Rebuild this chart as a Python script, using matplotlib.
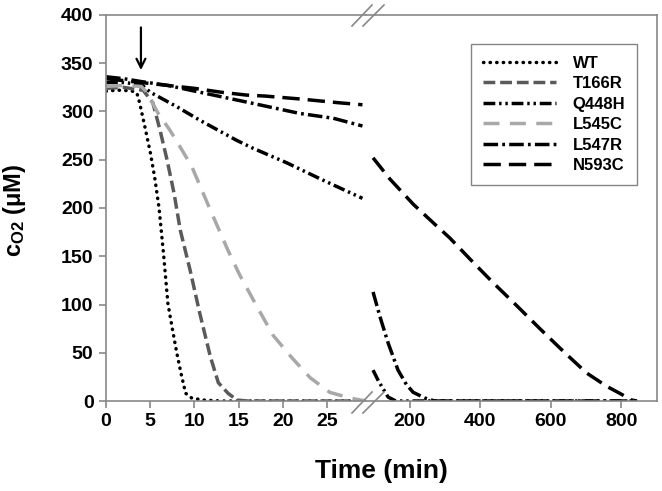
import matplotlib
matplotlib.use('Agg')
import matplotlib.pyplot as plt
from matplotlib.lines import Line2D

plt.rcParams['font.family'] = ['Liberation Sans', 'DejaVu Sans']
plt.rcParams['font.weight'] = 'bold'
plt.rcParams['mathtext.fontset'] = 'custom'
plt.rcParams['mathtext.rm'] = 'Liberation Sans:bold'
plt.rcParams['mathtext.it'] = 'Liberation Sans:bold'
plt.rcParams['mathtext.bf'] = 'Liberation Sans:bold'

# ---- data ----
# first part of the time axis (0 - ~29 min)
wt_t = [0, 1, 2, 3, 3.5, 3.8, 4.4, 5.0, 5.5, 6.0, 6.5, 7.0, 7.5, 8.0, 8.5, 9.0, 9.7, 11, 13, 29.4]
wt_c = [321, 322, 322, 321, 319, 309, 284, 258, 232, 200, 153, 101, 75, 50, 28, 8, 3, 1, 0, 0]

t166r_t = [0, 2, 4.2, 5.3, 6.1, 6.9, 7.7, 8.4, 9.5, 10.6, 11.8, 12.7, 13.8, 14.8, 16, 29.4]
t166r_c = [324, 325, 322, 309, 281, 250, 215, 177, 136, 91, 46, 19, 8, 1, 0, 0]

q448h_t = [0, 2, 4, 5, 8, 10.6, 14.8, 16.6, 20.4, 24.5, 29]
q448h_c = [330, 330, 328, 320, 305, 291, 270, 262, 247, 229, 210]

l545c_t = [0, 2, 4.0, 4.6, 5.9, 7.2, 8.4, 9.7, 11.7, 13.8, 15.1, 17.0, 18.9, 21.0, 23.1, 25.3, 27.6, 29.4]
l545c_c = [326, 327, 326, 320, 298, 281, 263, 243, 200, 156, 131, 99, 68, 45, 24, 9, 3, 0]

l547r_t = [0, 2, 4, 7, 10.6, 16.3, 21.9, 25.7, 29]
l547r_c = [336, 334, 331, 327, 320, 309, 298, 293, 285]

n593c_t = [0, 2, 4, 7, 10, 13, 15.9, 18, 21.9, 26.4, 29]
n593c_c = [334, 332, 330, 327, 324, 320, 317, 316, 313, 309, 307]

# second part of the time axis (~95 - 850 min)
q448h_t2 = [95, 110, 123, 138, 160, 845]
q448h_c2 = [32, 21, 13, 4, 0, 0]

l547r_t2 = [95, 115, 138, 166, 190, 209, 243, 270, 845]
l547r_c2 = [113, 87, 60, 32, 17, 9, 3, 0, 0]

n593c_t2 = [95, 143, 209, 271, 313, 376, 435, 500, 569, 640, 702, 760, 796, 830, 845]
n593c_c2 = [252, 230, 204, 183, 169, 145, 123, 100, 75, 50, 29, 15, 8, 1, 0]

left_ticks = [0, 5, 10, 15, 20, 25]
right_ticks = [200, 400, 600, 800]
y_ticks = [0, 50, 100, 150, 200, 250, 300, 350, 400]

styles = {
    'WT':    dict(color='black',   ls=(0, (0.1, 1.8)), dash_capstyle='round'),
    'T166R': dict(color='#5a5a5a', ls=(0, (3.4, 1.4))),
    'Q448H': dict(color='black',   ls=(0, (3.4, 1.1, 0.7, 1.1, 0.7, 1.1))),
    'L545C': dict(color='#a8a8a8', ls=(0, (4.6, 3.0))),
    'L547R': dict(color='black',   ls=(0, (4.2, 1.2, 0.8, 1.2))),
    'N593C': dict(color='black',   ls=(0, (5.0, 2.3))),
}
LW = 2.5
SPINE = '#888888'

fig = plt.figure(figsize=(6.62, 4.91), dpi=100)
W, H = 662.0, 491.0
y0 = 1 - 401 / H
h = (401 - 15) / H
ax1 = fig.add_axes([106 / W, y0, (366 - 106) / W, h])
ax2 = fig.add_axes([366 / W, y0, (657 - 366) / W, h])

ax1.plot(wt_t, wt_c, lw=LW, **styles['WT'])
ax1.plot(t166r_t, t166r_c, lw=LW, **styles['T166R'])
ax1.plot(q448h_t, q448h_c, lw=LW, **styles['Q448H'])
ax1.plot(l545c_t, l545c_c, lw=LW, **styles['L545C'])
ax1.plot(l547r_t, l547r_c, lw=LW, **styles['L547R'])
ax1.plot(n593c_t, n593c_c, lw=LW, **styles['N593C'])

ax2.plot(q448h_t2, q448h_c2, lw=LW, **styles['Q448H'])
ax2.plot(l547r_t2, l547r_c2, lw=LW, **styles['L547R'])
ax2.plot(n593c_t2, n593c_c2, lw=LW, **styles['N593C'])

ax1.set_xlim(0, 29.4)
ax2.set_xlim(75, 902)
for ax in (ax1, ax2):
    ax.set_ylim(0, 400)
    for s in ax.spines.values():
        s.set_color(SPINE)
        s.set_linewidth(1.2)
    ax.tick_params(direction='out', length=5, width=1.2, color=SPINE,
                   labelsize=14, labelcolor='black', pad=4)
ax1.spines['right'].set_visible(False)
ax2.spines['left'].set_visible(False)
ax2.tick_params(axis='y', left=False, labelleft=False)
ax1.set_xticks(left_ticks)
ax2.set_xticks(right_ticks)
ax1.set_yticks(y_ticks)
for ax in (ax1, ax2):
    for lab in ax.get_xticklabels() + ax.get_yticklabels():
        lab.set_fontweight('bold')

# arrow marking addition
ax1.annotate('', xy=(3.95, 340), xytext=(3.95, 390),
             arrowprops=dict(arrowstyle='->', lw=1.6, color='black',
                             mutation_scale=16))

# axis break marks
for (xa, xb) in [(352, 372), (363, 384)]:
    for (ya, yb) in [(26, 5), (413, 392)]:
        fig.add_artist(Line2D([xa / W, xb / W], [1 - ya / H, 1 - yb / H],
                              color=SPINE, lw=1.2))

# legend
handles = [Line2D([], [], lw=LW, **styles[k]) for k in styles]
leg = fig.legend(handles, list(styles.keys()), loc='upper right',
                 bbox_to_anchor=(637 / W, 1 - 44 / H), bbox_transform=fig.transFigure,
                 borderaxespad=0, handlelength=4.4, handletextpad=1.0,
                 labelspacing=0.33, borderpad=0.7, fancybox=False, frameon=True,
                 prop={'weight': 'bold', 'size': 12})
leg.get_frame().set_edgecolor('#666666')
leg.get_frame().set_linewidth(1.0)

fig.text(381 / W, 1 - 471 / H, 'Time (min)', ha='center', va='center',
         fontsize=19, fontweight='bold')
fig.text(15 / W, 1 - 210 / H, r'c$_{\mathrm{O2}}$ (μM)', ha='center', va='center',
         rotation=90, fontsize=17, fontweight='bold')

fig.savefig('out.png', dpi=100)
